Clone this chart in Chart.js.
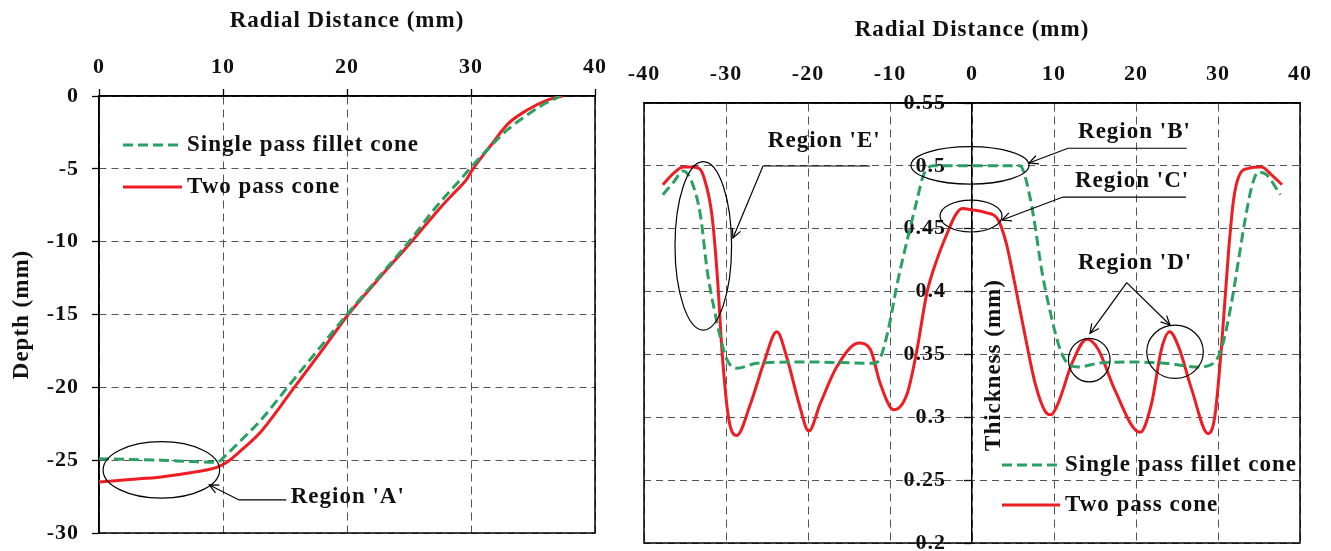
<!DOCTYPE html>
<html>
<head>
<meta charset="utf-8">
<title>Radial depth and thickness profiles</title>
<script src="https://cdn.jsdelivr.net/npm/chart.js@4.4.1/dist/chart.umd.min.js"></script>
<style>
  html, body { margin: 0; padding: 0; background: #fff; }
  #depthBox { position: absolute; left: 0; top: 0; width: 620px; height: 551px; }
  #thickBox { position: absolute; left: 620px; top: 0; width: 711px; height: 551px; }
</style>
</head>
<body>
<div id="depthBox"><canvas id="depth" width="620" height="551"></canvas></div>
<div id="thickBox"><canvas id="thick" width="711" height="551"></canvas></div>
<script>
// ---- Depth profile: radial distance (mm) vs depth (mm) ----
const depthTicksX = [0, 10, 20, 30, 40];
const depthTicksY = [0, -5, -10, -15, -20, -25, -30];

const singleDepthX = [0, 2.5, 5, 7.5, 9.5, 10.3, 11.5, 13, 15.2, 17.5, 20, 22.5, 25, 27.2, 29.1, 29.9, 31.3, 32.9, 34.7, 35.8, 37.2];
const singleDepthY = [-24.9, -24.95, -25.0, -25.1, -25.15, -24.6, -23.6, -22.3, -20, -17.6, -15, -12.5, -10, -7.6, -5.78, -5, -3.7, -2.35, -1.2, -0.6, 0];

const twoDepthX = [0, 2.5, 5, 7.5, 9.5, 10.3, 11.5, 13, 15.75, 18, 20.1, 22.5, 25.2, 27.6, 28.7, 29.6, 30.16, 31.5, 33, 34.5, 36.1, 37.4];
const twoDepthY = [-26.5, -26.33, -26.15, -25.85, -25.5, -25.15, -24.3, -23.1, -20, -17.45, -15, -12.6, -10, -7.6, -6.6, -5.78, -5, -3.5, -1.9, -0.98, -0.3, 0];

// ---- Thickness distribution: radial distance (mm) vs thickness (mm) ----
const thickTicksX = [-40, -30, -20, -10, 0, 10, 20, 30, 40];
const thickTicksY = [0.2, 0.25, 0.3, 0.35, 0.4, 0.45, 0.5, 0.55];
const thickTickLabels = ['0.2', '0.25', '0.3', '0.35', '0.4', '0.45', '0.5', '0.55'];

const singleThickX = [-37.7, -36.4, -35.2, -34.1, -33.1, -32.3, -31.5, -30.7, -29.9, -28.7, -26.2, -20.1, -12.0, -11.2, -10.2, -9.1, -7.9, -6.7, -5.9, -4.7, 0, 5.85, 6.5, 7.5, 8.5, 9.5, 10.5, 11.3, 13.0, 15.4, 19.5, 23.5, 27.6, 29.2, 30.4, 31.7, 32.5, 33.3, 34.1, 34.9, 35.9, 37.6];
const singleThickY = [0.477, 0.487, 0.496, 0.486, 0.460, 0.417, 0.388, 0.364, 0.346, 0.339, 0.343, 0.344, 0.343, 0.347, 0.370, 0.407, 0.441, 0.473, 0.493, 0.500, 0.500, 0.500, 0.491, 0.460, 0.417, 0.385, 0.359, 0.346, 0.340, 0.343, 0.344, 0.343, 0.340, 0.342, 0.354, 0.393, 0.425, 0.457, 0.483, 0.495, 0.493, 0.477];

const twoThickX = [-37.7, -36.4, -35.2, -34.3, -33.3, -32.7, -31.7, -31.0, -30.5, -29.7, -28.7, -27.0, -25.4, -23.8, -22.6, -21.1, -19.9, -18.5, -16.5, -13.8, -12.4, -11.2, -9.55, -7.9, -6.7, -5.5, -4.3, -3.05, -2.0, -1.2, 0, 1.6, 3.2, 4.2, 5.2, 6.5, 7.7, 8.9, 9.6, 10.5, 12.2, 14.0, 15.4, 17.4, 20.5, 21.9, 23.1, 24.1, 25.2, 26.8, 28.8, 29.6, 30.4, 31.3, 31.9, 32.5, 33.7, 35.3, 36.5, 37.8];
const twoThickY = [0.485, 0.494, 0.499, 0.499, 0.498, 0.491, 0.460, 0.407, 0.354, 0.300, 0.2855, 0.311, 0.343, 0.368, 0.348, 0.311, 0.289, 0.311, 0.340, 0.359, 0.354, 0.327, 0.306, 0.319, 0.354, 0.399, 0.425, 0.446, 0.461, 0.466, 0.465, 0.463, 0.457, 0.438, 0.407, 0.364, 0.327, 0.305, 0.302, 0.311, 0.343, 0.362, 0.354, 0.322, 0.288, 0.311, 0.354, 0.368, 0.356, 0.322, 0.287, 0.300, 0.354, 0.433, 0.473, 0.491, 0.498, 0.499, 0.493, 0.485];

// ---- shared styling ----
const SERIF = "'Liberation Serif', 'Times New Roman', serif";
const INK = '#111';
const GREEN = '#2aa062';
const RED = '#ee1d23';
const GRID = '#555';

const pairs = (xs, ys) => xs.map((x, i) => ({ x, y: ys[i] }));
const tickFont = { family: SERIF, size: 22, weight: 'bold' };
const titleFont = { family: SERIF, size: 23, weight: 'bold' };

function seriesSet(singleX, singleY, twoX, twoY) {
  return [
    {
      label: 'Single pass fillet cone',
      data: pairs(singleX, singleY),
      borderColor: GREEN, borderWidth: 3, borderDash: [10, 5],
      pointRadius: 0, cubicInterpolationMode: 'monotone', fill: false
    },
    {
      label: 'Two pass cone',
      data: pairs(twoX, twoY),
      borderColor: RED, borderWidth: 3,
      pointRadius: 0, cubicInterpolationMode: 'monotone', fill: false
    }
  ];
}

// plot frame plus slightly tracked lettering for all text
const framePlugin = {
  id: 'frame',
  beforeDraw(chart) { chart.ctx.letterSpacing = '1px'; },
  beforeDatasetsDraw(chart) {
    const { ctx, chartArea: a } = chart;
    ctx.save();
    ctx.strokeStyle = '#000';
    ctx.lineWidth = 1.5;
    ctx.strokeRect(a.left, a.top, a.right - a.left, a.bottom - a.top);
    ctx.restore();
  }
};

// in-plot key: line sample and label for each series
function keyPlugin(cfg) {
  return {
    id: 'key',
    afterDatasetsDraw(chart) {
      const { ctx, chartArea: a } = chart;
      chart.data.datasets.forEach((ds, i) => {
        const y = a.top + cfg.rows[i];
        ctx.save();
        ctx.strokeStyle = ds.borderColor;
        ctx.lineWidth = ds.borderWidth;
        ctx.setLineDash(ds.borderDash || []);
        ctx.beginPath();
        ctx.moveTo(a.left + cfg.lineFrom, y);
        ctx.lineTo(a.left + cfg.lineTo, y);
        ctx.stroke();
        ctx.setLineDash([]);
        ctx.fillStyle = INK;
        ctx.font = `bold 23px ${SERIF}`;
        ctx.textAlign = 'left';
        ctx.textBaseline = 'middle';
        ctx.fillText(ds.label, a.left + cfg.textAt, y);
        ctx.restore();
      });
    }
  };
}

function arrowHead(ctx, x1, y1, x2, y2) {
  const ang = Math.atan2(y2 - y1, x2 - x1);
  const len = 10, spread = 0.45;
  ctx.beginPath();
  ctx.moveTo(x2 - len * Math.cos(ang - spread), y2 - len * Math.sin(ang - spread));
  ctx.lineTo(x2, y2);
  ctx.lineTo(x2 - len * Math.cos(ang + spread), y2 - len * Math.sin(ang + spread));
  ctx.stroke();
}

// callouts: ellipses, leader lines with arrows and region labels, placed in axis units
function notesPlugin(notes) {
  return {
    id: 'notes',
    afterDatasetsDraw(chart) {
      const { ctx, scales: { x, y } } = chart;
      const px = v => x.getPixelForValue(v);
      const py = v => y.getPixelForValue(v);
      ctx.save();
      ctx.strokeStyle = '#000';
      ctx.lineWidth = 1.2;
      notes.ellipses.forEach(e => {
        ctx.beginPath();
        ctx.ellipse(px(e.x), py(e.y),
          Math.abs(px(e.x + e.rx) - px(e.x)), Math.abs(py(e.y + e.ry) - py(e.y)),
          0, 0, Math.PI * 2);
        ctx.stroke();
      });
      notes.leaders.forEach(l => {
        ctx.beginPath();
        l.pts.forEach(([a, b], i) => i ? ctx.lineTo(px(a), py(b)) : ctx.moveTo(px(a), py(b)));
        ctx.stroke();
        if (l.arrow) {
          const n = l.pts.length;
          arrowHead(ctx, px(l.pts[n - 2][0]), py(l.pts[n - 2][1]), px(l.pts[n - 1][0]), py(l.pts[n - 1][1]));
        }
      });
      ctx.fillStyle = INK;
      ctx.font = `bold 23px ${SERIF}`;
      ctx.textAlign = 'left';
      ctx.textBaseline = 'middle';
      notes.labels.forEach(t => ctx.fillText(t.text, px(t.x), py(t.y)));
      if (notes.caption) {
        const c = notes.caption;
        ctx.translate(px(0) + c.dx, chart.chartArea.top + c.dy);
        ctx.rotate(-Math.PI / 2);
        ctx.textAlign = 'center';
        ctx.fillText(c.text, 0, 0);
      }
      ctx.restore();
    }
  };
}

const depthNotes = {
  ellipses: [{ x: 5.03, y: -25.67, rx: 4.7, ry: 1.94 }],
  leaders: [{ pts: [[15.1, -27.73], [11.3, -27.73], [8.9, -26.7]], arrow: true }],
  labels: [{ text: "Region 'A'", x: 15.46, y: -27.52 }]
};

const thickNotes = {
  ellipses: [
    { x: -32.77, y: 0.4364, rx: 3.45, ry: 0.067 },
    { x: -0.24, y: 0.5004, rx: 7.2, ry: 0.0149 },
    { x: -0.12, y: 0.4601, rx: 3.78, ry: 0.0127 },
    { x: 14.3, y: 0.3455, rx: 2.54, ry: 0.0173 },
    { x: 24.76, y: 0.3521, rx: 3.45, ry: 0.0212 }
  ],
  leaders: [
    { pts: [[-12.44, 0.4999], [-25.49, 0.4999], [-29.15, 0.4426]], arrow: true },
    { pts: [[26.2, 0.514], [11.7, 0.514], [6.95, 0.5023]], arrow: true },
    { pts: [[26.1, 0.4752], [11.1, 0.4752], [3.66, 0.4569]], arrow: true },
    { pts: [[18.87, 0.4071], [14.39, 0.3668]], arrow: true },
    { pts: [[18.87, 0.4071], [24.15, 0.3734]], arrow: true }
  ],
  labels: [
    { text: "Region 'E'", x: -24.9, y: 0.5198 },
    { text: "Region 'B'", x: 12.93, y: 0.5265 },
    { text: "Region 'C'", x: 12.56, y: 0.488 },
    { text: "Region 'D'", x: 12.93, y: 0.423 }
  ],
  caption: { text: 'Thickness (mm)', dx: 22, dy: 262 }
};

const fixedTicks = values => scale => { scale.ticks = values.map(v => ({ value: v })); };

// ---- left panel ----
new Chart(document.getElementById('depth'), {
  type: 'line',
  data: { datasets: seriesSet(singleDepthX, singleDepthY, twoDepthX, twoDepthY) },
  options: {
    responsive: false,
    animation: false,
    layout: { padding: { left: 0, top: 0, right: 25, bottom: 18 } },
    plugins: { legend: { display: false }, tooltip: { enabled: false } },
    scales: {
      x: {
        type: 'linear', position: 'top', min: 0, max: 40,
        afterBuildTicks: fixedTicks(depthTicksX),
        afterFit: s => { s.height = 96; s.paddingLeft = 0; s.paddingRight = 0; },
        grid: { color: GRID, lineWidth: 1, tickLength: 7, tickColor: '#000', tickWidth: 1.3, tickBorderDash: [] },
        border: { display: true, color: '#000', width: 1.5, dash: [8, 5] },
        ticks: { font: tickFont, color: INK, padding: 8, maxRotation: 0, autoSkip: false, callback: v => String(v) },
        title: { display: true, text: 'Radial Distance (mm)', font: titleFont, color: INK, padding: { top: 7, bottom: 0 } }
      },
      y: {
        type: 'linear', position: 'left', min: -30, max: 0,
        afterBuildTicks: fixedTicks(depthTicksY),
        afterFit: s => { s.width = 99; s.paddingTop = 0; s.paddingBottom = 0; },
        grid: { color: GRID, lineWidth: 1, tickLength: 7, tickColor: '#000', tickWidth: 1.3, tickBorderDash: [] },
        border: { display: true, color: '#000', width: 1.5, dash: [7, 5] },
        ticks: { font: tickFont, color: INK, padding: 13, autoSkip: false, callback: v => String(v) },
        title: { display: true, text: 'Depth (mm)', font: titleFont, color: INK, padding: { top: 8, bottom: 0 } }
      }
    }
  },
  plugins: [framePlugin, keyPlugin({ rows: [49, 91], lineFrom: 24, lineTo: 83, textAt: 88 }), notesPlugin(depthNotes)]
});

// ---- right panel ----
new Chart(document.getElementById('thick'), {
  type: 'line',
  data: { datasets: seriesSet(singleThickX, singleThickY, twoThickX, twoThickY) },
  options: {
    responsive: false,
    animation: false,
    layout: { padding: { left: 24, top: 0, right: 31, bottom: 8 } },
    plugins: { legend: { display: false }, tooltip: { enabled: false } },
    scales: {
      x: {
        type: 'linear', position: 'top', min: -40, max: 40,
        afterBuildTicks: fixedTicks(thickTicksX),
        afterFit: s => { s.height = 103; s.paddingLeft = 0; s.paddingRight = 0; },
        grid: { color: GRID, lineWidth: 1, drawTicks: false },
        border: { display: true, color: '#000', width: 1.5, dash: [8, 5] },
        ticks: { font: tickFont, color: INK, padding: 15, maxRotation: 0, autoSkip: false, callback: v => String(v) },
        title: { display: true, text: 'Radial Distance (mm)', font: titleFont, color: INK, padding: { top: 16, bottom: 0 } }
      },
      y: {
        type: 'linear', position: { x: 0 }, min: 0.2, max: 0.55,
        afterBuildTicks: fixedTicks(thickTicksY),
        afterFit: s => { s.width = 0; s.paddingTop = 0; s.paddingBottom = 0; },
        grid: { color: GRID, lineWidth: 1, tickLength: 7, tickColor: '#000', tickWidth: 1.3, tickBorderDash: [] },
        border: { display: true, color: '#000', width: 1.5, dash: [7, 5] },
        ticks: {
          font: tickFont, color: INK, autoSkip: false,
          callback: v => thickTickLabels[thickTicksY.findIndex(t => Math.abs(t - v) < 1e-9)] + '    '
        },
        title: { display: false }
      }
    }
  },
  plugins: [framePlugin, keyPlugin({ rows: [362, 402], lineFrom: 358, lineTo: 416, textAt: 421 }), notesPlugin(thickNotes)]
});
</script>
</body>
</html>
